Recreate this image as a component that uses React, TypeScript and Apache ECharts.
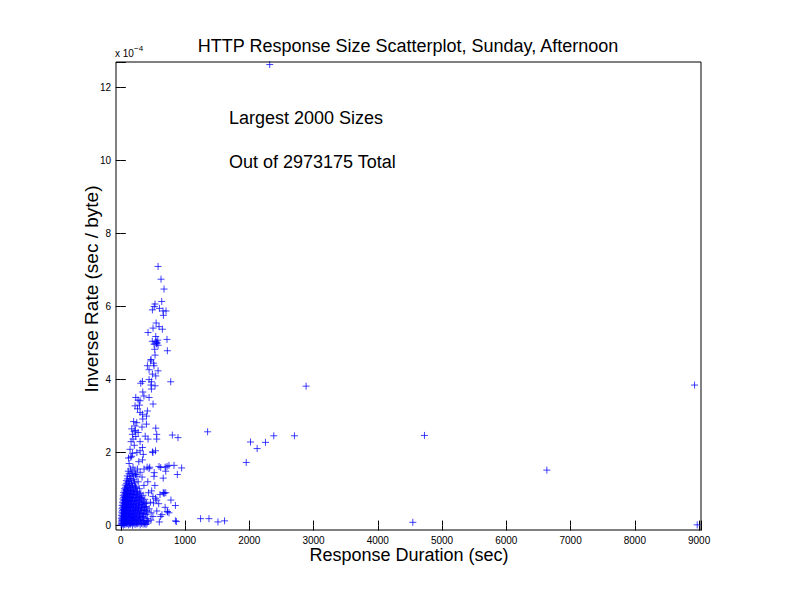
import React, { useEffect, useRef } from "react";
import * as echarts from "echarts";

const xTickValues = [0, 1000, 2000, 3000, 4000, 5000, 6000, 7000, 8000, 9000];
const yTickValues = [0, 2, 4, 6, 8, 10, 12];

// [duration sec, inverse rate in 1e-4 sec/byte]
const clusterPoints: number[][] = [
  [5,0.02],[22,0.04],[40,0.01],[63,0.03],[88,0.05],[118,0.02],[150,0.04],[183,0.01],[221,0.03],[258,0.05],[302,0.02],[347,0.04],[392,0.03],
  [10,0.10],[31,0.12],[54,0.09],[79,0.11],[108,0.13],[139,0.08],[171,0.12],[204,0.10],[243,0.09],[282,0.13],[329,0.11],[378,0.08],[428,0.12],
  [8,0.19],[26,0.17],[48,0.20],[74,0.18],[101,0.16],[131,0.21],[163,0.19],[198,0.17],[236,0.20],[272,0.18],[312,0.16],[361,0.21],[418,0.19],
  [12,0.28],[34,0.26],[59,0.29],[86,0.27],[114,0.25],[146,0.30],[179,0.28],[216,0.26],[251,0.29],[291,0.27],[338,0.25],[396,0.30],
  [15,0.37],[37,0.35],[63,0.38],[91,0.36],[121,0.34],[151,0.39],[186,0.37],[224,0.35],[266,0.38],[302,0.36],[352,0.34],[411,0.38],[472,0.35],
  [18,0.46],[41,0.44],[67,0.47],[96,0.45],[126,0.43],[159,0.48],[196,0.46],[233,0.44],[276,0.47],[321,0.45],[369,0.43],[442,0.46],
  [22,0.55],[46,0.53],[71,0.56],[101,0.54],[131,0.52],[166,0.57],[204,0.55],[246,0.53],[289,0.56],[336,0.54],[392,0.52],
  [27,0.64],[51,0.62],[77,0.65],[106,0.63],[139,0.61],[176,0.66],[211,0.64],[254,0.62],[301,0.65],[349,0.63],[401,0.61],[461,0.64],
  [32,0.73],[56,0.71],[84,0.74],[116,0.72],[149,0.70],[186,0.75],[226,0.73],[269,0.71],[321,0.74],[374,0.72],
  [38,0.82],[62,0.80],[93,0.83],[124,0.81],[161,0.79],[199,0.84],[241,0.82],[289,0.80],[346,0.83],
  [46,0.91],[71,0.89],[99,0.92],[136,0.90],[174,0.88],[216,0.93],[259,0.91],[311,0.89],
  [56,1.01],[81,0.99],[114,1.02],[151,1.00],[194,0.98],[241,1.03],[289,1.01],
  [69,1.11],[99,1.09],[136,1.12],[181,1.10],[229,1.08],
  [86,1.23],[119,1.21],[161,1.24],[209,1.22],[271,1.20],
  [101,1.36],[141,1.34],[189,1.37],[251,1.35],[331,1.33],
  [116,1.49],[161,1.47],[219,1.50],[301,1.46],
];

const clusterFillPoints: number[][] = [
  [14,0.06],[32,0.07],[52,0.05],[76,0.07],[104,0.06],[134,0.05],[166,0.07],[202,0.06],[240,0.05],[280,0.07],[324,0.06],[370,0.05],[410,0.07],
  [18,0.14],[42,0.15],[66,0.13],[93,0.15],[123,0.14],[155,0.13],[187,0.15],[222,0.14],[262,0.13],[305,0.15],[354,0.14],[403,0.13],
  [20,0.23],[40,0.24],[64,0.22],[90,0.24],[120,0.23],[152,0.22],[184,0.24],[218,0.23],[255,0.22],[296,0.24],[346,0.23],
  [24,0.32],[47,0.33],[73,0.31],[101,0.33],[131,0.32],[163,0.31],[199,0.33],[238,0.32],[282,0.31],[326,0.33],[380,0.32],
  [27,0.41],[52,0.42],[79,0.40],[108,0.42],[141,0.41],[176,0.40],[214,0.42],[254,0.41],[298,0.40],[346,0.42],[404,0.41],
  [31,0.50],[58,0.51],[85,0.49],[116,0.51],[148,0.50],[184,0.49],[224,0.51],[268,0.50],[312,0.49],[362,0.51],
  [36,0.59],[62,0.60],[90,0.58],[122,0.60],[157,0.59],[193,0.58],[232,0.60],[277,0.59],[325,0.58],[376,0.60],
  [42,0.68],[67,0.69],[96,0.67],[131,0.69],[167,0.68],[205,0.67],[247,0.69],[295,0.68],[348,0.67],
  [47,0.77],[74,0.78],[104,0.76],[141,0.78],[179,0.77],[219,0.76],[265,0.78],[317,0.77],
  [54,0.86],[82,0.87],[114,0.85],[152,0.87],[191,0.86],[236,0.85],[284,0.87],
  [62,0.95],[91,0.96],[126,0.94],[164,0.96],[206,0.95],[254,0.94],
  [76,1.05],[108,1.06],[144,1.04],[186,1.06],[232,1.05],
  [90,1.16],[126,1.17],[166,1.15],[214,1.17],
  [104,1.28],[146,1.29],[196,1.27],
  [128,1.42],[176,1.43],[236,1.41],
];

const fringePoints: number[][] = [
  [420,1.2],[480,0.95],[530,1.1],[610,0.85],[660,1.3],[520,1.45],[450,1.6],[700,0.9],[780,0.7],[850,0.55],
  [560,0.4],[640,0.3],[590,0.6],[500,0.25],[690,0.5],[750,0.35],[540,0.75],[470,0.15],[600,0.1],[380,0.5],
  [430,0.9],[360,1.1],[660,0.9],[850,0.13],[725,0.38],[673,0.89],[510,0.62],[560,0.7],[620,0.25],[500,0.8],
  [130,1.7],[170,1.9],[210,2.2],[160,2.3],[250,2.0],[190,1.6],[280,1.75],[230,2.6],[200,2.85],[260,3.2],
  [170,2.65],[300,2.3],[350,1.95],[380,2.45],[410,1.6],[230,1.4],[150,1.55],[120,1.85],[270,2.55],[330,2.7],
  [290,3.3],[360,3.55],[400,3.0],[440,4.0],[470,4.55],[510,4.45],[490,5.05],[550,5.55],[520,6.0],[470,3.85],
  [545,5.05],[565,5.0],[555,4.98],[575,5.08],[690,1.6],[720,1.62],[500,2.0],[540,2.05],
];

const spikePoints: number[][] = [
  [580,7.10],[626,6.75],[673,6.48],[637,6.14],[533,6.07],[492,5.91],[601,5.95],[657,5.88],[704,5.88],[663,5.76],
  [595,5.45],[502,5.41],[647,5.38],[424,5.29],[544,5.18],[719,5.10],[559,5.02],[517,4.97],[580,4.94],[528,4.83],
  [725,4.79],[533,4.67],[466,4.51],[414,4.38],[517,4.38],[440,4.27],[580,4.24],[492,4.15],[544,4.10],[777,3.94],
  [311,3.90],[337,3.95],[477,3.94],[533,3.83],[477,3.74],[342,3.66],[233,3.51],[269,3.44],[300,3.42],[440,3.51],
  [502,3.33],[222,3.28],[414,3.14],[300,3.10],[337,3.05],[342,2.92],[248,2.82],[222,2.73],[399,2.78],[207,2.59],
  [181,2.50],[233,2.44],[191,2.37],[424,2.37],[544,2.67],[559,2.50],[559,2.37],[802,2.48],[890,2.41],[144,2.09],
  [337,2.14],[492,2.02],[300,2.05],[181,1.98],[337,1.80],[155,1.87],[595,1.62],[621,1.59],[750,1.65],[828,1.65],
  [947,1.58],[699,1.49],[517,1.35],[880,1.40],[440,1.56],[362,1.55],[259,1.55],[673,0.89],[725,0.38],[865,0.11],
];

const outlierPoints: number[][] = [
  [1242,0.19],[1372,0.19],[1512,0.10],[1615,0.13],[1351,2.57],[1952,1.73],[2019,2.29],[2122,2.11],[2252,2.28],
  [2381,2.46],[2702,2.46],[2884,3.82],[2318,12.63],[4545,0.09],[4726,2.47],[6631,1.52],[8930,3.85],[8971,0.02],
];

const FONT = "'Liberation Sans', Arial, Helvetica, sans-serif";

export default function App() {
  const ref = useRef<HTMLDivElement>(null);
  useEffect(() => {
    if (!ref.current) return;
    const chart = echarts.init(ref.current, null, { renderer: "svg" });
    const allPoints = [...clusterPoints, ...clusterFillPoints, ...fringePoints, ...spikePoints, ...outlierPoints];
    const xFmt = (v: number) => {
      const r = Math.round(v);
      return xTickValues.indexOf(r) >= 0 && Math.abs(v - r) < 1e-6 ? String(r) : "";
    };
    const yFmt = (v: number) => {
      const r = Math.round(v);
      return yTickValues.indexOf(r) >= 0 && Math.abs(v - r) < 1e-6 ? String(r) : "";
    };
    const noLine = { show: false };
    const tick = { show: true, inside: true, length: 5, lineStyle: { color: "#000", width: 1 } };
    const label = { color: "#000", fontSize: 10, fontFamily: FONT };
    chart.setOption({
      animation: false,
      backgroundColor: "#fff",
      grid: { left: 120.8, right: 91, top: 62, bottom: 86.4, containLabel: false },
      xAxis: [
        { type: "value", position: "bottom", offset: 4.4, min: 0, max: 9030, interval: 1000, axisLine: noLine, axisTick: tick,
          axisLabel: { ...label, margin: 5, formatter: xFmt }, splitLine: { show: false } },
        { type: "value", position: "top", min: 0, max: 9030, interval: 1000, axisLine: noLine, axisTick: tick,
          axisLabel: { show: false }, splitLine: { show: false } },
      ],
      yAxis: [
        { type: "value", position: "left", offset: 4.8, min: 0, max: 12.7, interval: 2, axisLine: noLine, axisTick: tick,
          axisLabel: { ...label, margin: 5, formatter: yFmt }, splitLine: { show: false } },
        { type: "value", position: "right", min: 0, max: 12.7, interval: 2, axisLine: noLine, axisTick: tick,
          axisLabel: { show: false }, splitLine: { show: false } },
      ],
      series: [
        {
          type: "scatter",
          data: allPoints,
          clip: false,
          symbol: "path://M5,0V10M0,5H10",
          symbolSize: 7,
          itemStyle: { color: "#0000ff", borderColor: "#0000ff", borderWidth: 1, opacity: 0.75 },
          emphasis: { disabled: true },
        },
      ],
      graphic: [
        { type: "rect", shape: { x: 116, y: 62, width: 585, height: 468 }, style: { fill: "none", stroke: "#000", lineWidth: 1 }, z: 10 },
        { type: "text", x: 408, y: 46, style: { text: "HTTP Response Size Scatterplot, Sunday, Afternoon", font: `18px ${FONT}`, fill: "#000", align: "center", verticalAlign: "middle" } },
        { type: "text", x: 229, y: 118, style: { text: "Largest 2000 Sizes", font: `18px ${FONT}`, fill: "#000", align: "left", verticalAlign: "middle" } },
        { type: "text", x: 229, y: 162, style: { text: "Out of 2973175 Total", font: `18px ${FONT}`, fill: "#000", align: "left", verticalAlign: "middle" } },
        { type: "text", x: 409, y: 555, style: { text: "Response Duration (sec)", font: `18px ${FONT}`, fill: "#000", align: "center", verticalAlign: "middle" } },
        { type: "text", x: 91, y: 289, rotation: Math.PI / 2, style: { text: "Inverse Rate (sec / byte)", font: `19px ${FONT}`, fill: "#000", align: "center", verticalAlign: "middle" } },
        { type: "text", x: 115, y: 53, style: { text: "x 10", font: `10px ${FONT}`, fill: "#000", align: "left", verticalAlign: "middle" } },
        { type: "text", x: 134, y: 48, style: { text: "\u22124", font: `8px ${FONT}`, fill: "#000", align: "left", verticalAlign: "middle" } },
      ],
    });
    return () => chart.dispose();
  }, []);
  return <div ref={ref} style={{ position: "fixed", left: 0, top: 0, width: 792, height: 612, background: "#fff" }} />;
}
